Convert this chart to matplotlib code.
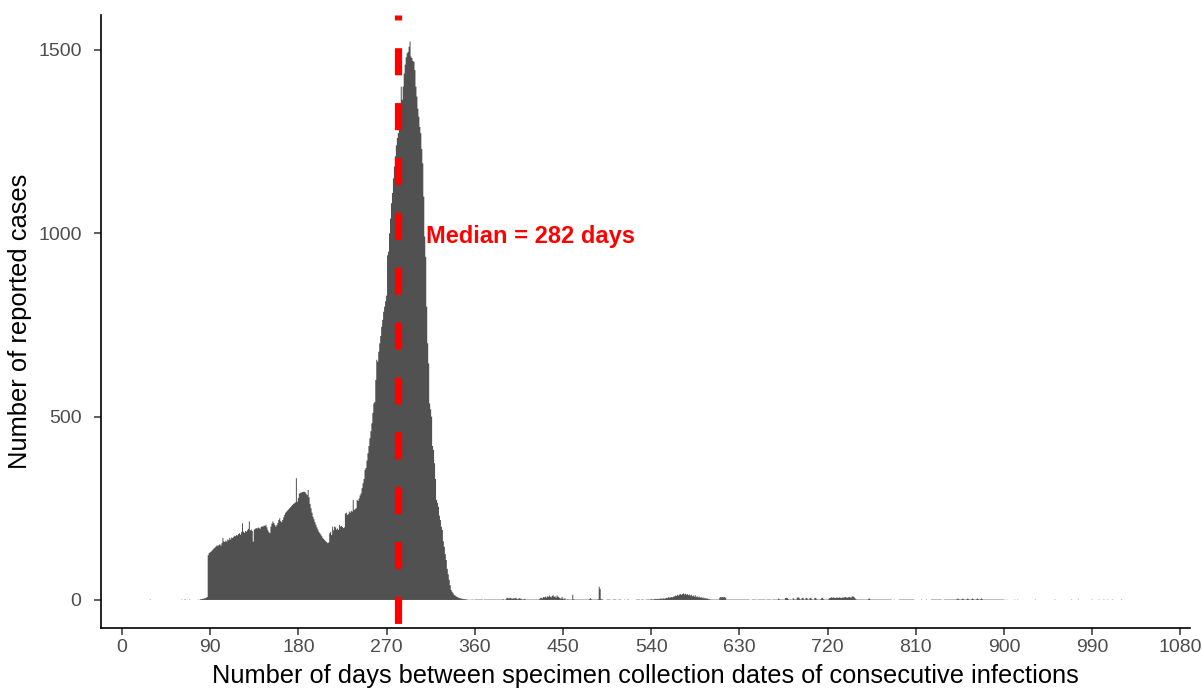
import numpy as np
import matplotlib
matplotlib.use("Agg")
import matplotlib.pyplot as plt

plt.rcParams['font.family'] = ['Liberation Sans', 'DejaVu Sans']
plt.rcParams['lines.scale_dashes'] = False

# ---------------- data ----------------
sporadic_days = [29, 61, 64, 65, 69, 78, 80]
sporadic_counts = [1, 1, 1, 1, 1, 1, 2]

hump_start = 81  # first day of the main hump list
hump_counts = [
    2, 3, 3, 4, 5, 6, 8,                                   # 81-87
    122, 128, 130,                                         # 88-90
    132, 135, 138, 141, 143, 146, 149, 147, 150, 152,      # 91-100
    148, 155, 169, 160, 158, 162, 159, 165, 163, 169,      # 101-110
    165, 170, 169, 172, 175, 174, 177, 176, 180, 182,      # 111-120
    178, 185, 209, 186, 183, 188, 186, 190, 194, 214,      # 121-130
    190, 192, 188, 159, 192, 194, 196, 195, 198, 196,      # 131-140
    194, 199, 201, 200, 203, 202, 205, 198, 190, 185,      # 141-150
    182, 200, 208, 214, 210, 205, 200, 204, 210, 218,      # 151-160
    223, 215, 212, 218, 225, 232, 238, 241, 244, 247,      # 161-170
    250, 253, 256, 259, 262, 264, 266, 332, 268, 278,      # 171-180
    290, 292, 293, 294, 295, 295, 294, 290, 286, 300,      # 181-190
    280, 262, 250, 238, 227, 220, 212, 205, 198, 192,      # 191-200
    186, 182, 178, 174, 169, 166, 163, 160, 158, 155,      # 201-210
    157, 182, 186, 177, 200, 190, 200, 198, 192, 195,      # 211-220
    191, 205, 200, 202, 199, 196, 198, 236, 238, 232,      # 221-230
    234, 241, 238, 243, 241, 273, 245, 248, 250, 273,      # 231-240
    270, 277, 285, 291, 305, 318, 330, 355, 360, 380,      # 241-250
    400, 420, 441, 460, 482, 510, 536, 540, 600, 655,      # 251-260
    650, 677, 700, 720, 745, 764, 786, 800, 815, 830,      # 261-270
    940, 950, 1000, 1040, 1082, 1110, 1150, 1182, 1210, 1240,  # 271-280
    1260, 1273, 1309, 1340, 1400, 1364, 1400, 1436, 1460, 1480,  # 281-290
    1491, 1495, 1509, 1523, 1482, 1478, 1470, 1468, 1445, 1400,  # 291-300
    1373, 1340, 1318, 1290, 1273, 1230, 1191, 1100, 991, 936,    # 301-310
    800, 700, 645, 536, 520, 500, 420, 409, 373, 330,      # 311-320
    273, 265, 254, 230, 218, 200, 191, 160, 145, 125,      # 321-330
    109, 85, 70, 55, 40, 27, 22, 18, 14, 12,               # 331-340
    10, 8, 7, 5, 5, 4, 3, 3, 2, 2,                         # 341-350
]

tail_start = 351  # first day of the tail list
tail_counts = [
    2, 1, 1, 0, 1, 0, 1, 1, 0, 1,        # 351-360
    1, 1, 1, 1, 1, 1, 1, 1, 0, 1,        # 361-370
    1, 1, 1, 1, 1, 1, 1, 1, 1, 1,        # 371-380
    1, 1, 1, 1, 1, 1, 1, 1, 2, 1,        # 381-390
    0, 3, 6, 5, 4, 6, 5, 3, 4, 5,        # 391-400
    4, 6, 3, 2, 4, 5, 3, 2, 1, 2,        # 401-410
    3, 1, 1, 1, 1, 1, 1, 1, 1, 1,        # 411-420
    1, 1, 1, 1, 1, 2, 5, 6, 4, 8,        # 421-430
    7, 9, 6, 10, 8, 12, 9, 7, 11, 13,    # 431-440
    8, 10, 6, 12, 9, 7, 5, 3, 8, 4,      # 441-450
    2, 5, 1, 1, 2, 1, 1, 1, 1, 14,       # 451-460
    2, 1, 1, 1, 1, 1, 1, 1, 1, 1,        # 461-470
    1, 1, 1, 1, 1, 1, 2, 5, 2, 1,        # 471-480
    1, 1, 1, 1, 1, 2, 36, 30, 2, 2,      # 481-490
    1, 0, 0, 0, 1, 1, 1, 1, 0, 0,        # 491-500
    1, 1, 1, 1, 0, 0, 1, 1, 1, 0,        # 501-510
    0, 0, 1, 0, 0, 1, 1, 0, 0, 0,        # 511-520
    0, 0, 0, 0, 1, 1, 1, 1, 0, 1,        # 521-530
    1, 1, 0, 0, 1, 1, 1, 1, 1, 2,        # 531-540
    2, 1, 2, 3, 2, 3, 3, 2, 4, 3,        # 541-550
    4, 3, 5, 3, 5, 6, 5, 8, 6, 7,        # 551-560
    8, 7, 9, 10, 12, 11, 14, 12, 15, 16, # 561-570
    14, 16, 18, 15, 17, 14, 16, 13, 15, 12,  # 571-580
    14, 10, 12, 9, 13, 8, 10, 7, 9, 6,   # 581-590
    8, 5, 7, 4, 6, 3, 5, 3, 2, 2,        # 591-600
    1, 1, 1, 1, 1, 1, 1, 1, 1, 6,        # 601-610
    8, 7, 8, 7, 8, 6, 1, 1, 1, 1,        # 611-620
    1, 1, 1, 1, 1, 1, 1, 1, 1, 1,        # 621-630
    1, 1, 1, 1, 1, 1, 1, 1, 1, 1,        # 631-640
    0, 0, 1, 1, 1, 1, 1, 0, 1, 1,        # 641-650
    1, 1, 1, 1, 1, 1, 0, 1, 1, 1,        # 651-660
    1, 1, 0, 1, 1, 1, 1, 1, 1, 4,        # 661-670
    2, 1, 1, 1, 1, 1, 5, 6, 5, 2,        # 671-680
    1, 1, 1, 1, 5, 2, 1, 1, 6, 7,        # 681-690
    6, 2, 1, 5, 6, 2, 1, 6, 5, 2,        # 691-700
    1, 5, 6, 2, 1, 1, 5, 6, 2, 1,        # 701-710
    1, 1, 2, 5, 6, 2, 1, 1, 1, 1,        # 711-720
    2, 5, 6, 7, 6, 7, 6, 5, 7, 6,        # 721-730
    6, 7, 6, 5, 7, 6, 7, 8, 7, 6,        # 731-740
    7, 8, 7, 6, 9, 10, 8, 5, 2, 1,       # 741-750
    1, 1, 1, 1, 1, 1, 1, 1, 1, 1,        # 751-760
    1, 3, 4, 1, 1, 1, 1, 1, 1, 1,        # 761-770
    1, 1, 1, 1, 1, 1, 1, 1, 1, 1,        # 771-780
    1, 1, 1, 1, 1, 0, 0, 1, 0, 0,        # 781-790
    0, 0, 1, 1, 1, 1, 1, 1, 1, 1,        # 791-800
    1, 1, 1, 1, 1, 1, 1, 1, 0, 0,        # 801-810
    0, 0, 0, 0, 0, 1, 0, 0, 0, 0,        # 811-820
    1, 0, 0, 0, 0, 1, 1, 1, 1, 1,        # 821-830
    1, 1, 1, 1, 1, 1, 0, 0, 1, 1,        # 831-840
    1, 1, 1, 1, 1, 1, 1, 1, 1, 1,        # 841-850
    1, 2, 4, 2, 1, 1, 2, 4, 2, 1,        # 851-860
    1, 2, 4, 2, 1, 1, 2, 4, 2, 1,        # 861-870
    1, 2, 4, 2, 1, 2, 4, 2, 1, 1,        # 871-880
    1, 1, 1, 1, 1, 1, 1, 1, 1, 1,        # 881-890
    1, 1, 1, 1, 1, 1, 1, 1, 1, 1,        # 891-900
    0, 0, 1, 0, 0, 0, 0, 0, 0, 0,        # 901-910
    1, 0, 0, 1, 0, 0, 0, 0, 0, 0,        # 911-920
    0, 0, 0, 0, 0, 0, 0, 0, 0, 0,        # 921-930
    0, 1, 0, 0, 0, 0, 0, 0, 0, 0,        # 931-940
    0, 0, 0, 0, 0, 0, 0, 0, 0, 0,        # 941-950
    0, 1, 0, 0, 0, 0, 0, 0, 0, 0,        # 951-960
    0, 0, 0, 0, 0, 0, 0, 0, 1, 0,        # 961-970
    0, 0, 0, 0, 0, 1, 0, 0, 0, 0,        # 971-980
    0, 0, 0, 0, 0, 0, 0, 0, 0, 1,        # 981-990
    0, 0, 0, 0, 0, 0, 1, 0, 0, 0,        # 991-1000
    0, 1, 0, 0, 0, 1, 0, 0, 0, 0,        # 1001-1010
    1, 0, 0, 0, 0, 0, 0, 0, 0, 1,        # 1011-1020
]

median_days = 282
median_label = "Median = 282 days"
x_ticks = [0, 90, 180, 270, 360, 450, 540, 630, 720, 810, 900, 990, 1080]
y_ticks = [0, 500, 1000, 1500]
x_label = "Number of days between specimen collection dates of consecutive infections"
y_label = "Number of reported cases"

# ---------------- assemble into a daily histogram ----------------
first_day = min(sporadic_days)
last_day = tail_start + len(tail_counts) - 1
all_days = np.arange(first_day, last_day + 1)
daily = np.zeros(all_days.size)
daily[np.array(sporadic_days) - first_day] = sporadic_counts
daily[hump_start - first_day: hump_start - first_day + len(hump_counts)] = hump_counts
daily[tail_start - first_day: tail_start - first_day + len(tail_counts)] = tail_counts
edges = np.append(all_days - 0.5, all_days[-1] + 0.5)

# ---------------- plot ----------------
fig = plt.figure(figsize=(12.02, 6.90), dpi=100)
ax = fig.add_axes([0.0840, 0.0899, 0.9060, 0.8884])

ax.stairs(daily, edges, fill=True, color="#515151", linewidth=0, zorder=2)

ax.axvline(median_days, color="#FF0000", linewidth=5.2,
           linestyle=(36.2, (19.5, 20.0)), zorder=3)

ax.text(310, 990, median_label, color="#FF0000", fontsize=17,
        fontweight="bold", ha="left", va="center", zorder=4)

ax.set_xlim(-21.4, 1089.8)
ax.set_ylim(-76.4, 1595.5)
ax.set_xticks(x_ticks)
ax.set_yticks(y_ticks)

for side in ["top", "right"]:
    ax.spines[side].set_visible(False)
for side in ["left", "bottom"]:
    ax.spines[side].set_linewidth(1.2)
    ax.spines[side].set_color("black")

ax.tick_params(axis="both", which="major", length=5, width=1.1,
               color="#333333", labelcolor="#4D4D4D", labelsize=14)
ax.tick_params(axis="y", pad=9)
ax.tick_params(axis="x", pad=3)

ax.set_xlabel(x_label, fontsize=18.3, color="black", labelpad=6)
ax.set_ylabel(y_label, fontsize=18.4, color="black", labelpad=4)

fig.savefig("out.png", dpi=100, facecolor="white")
